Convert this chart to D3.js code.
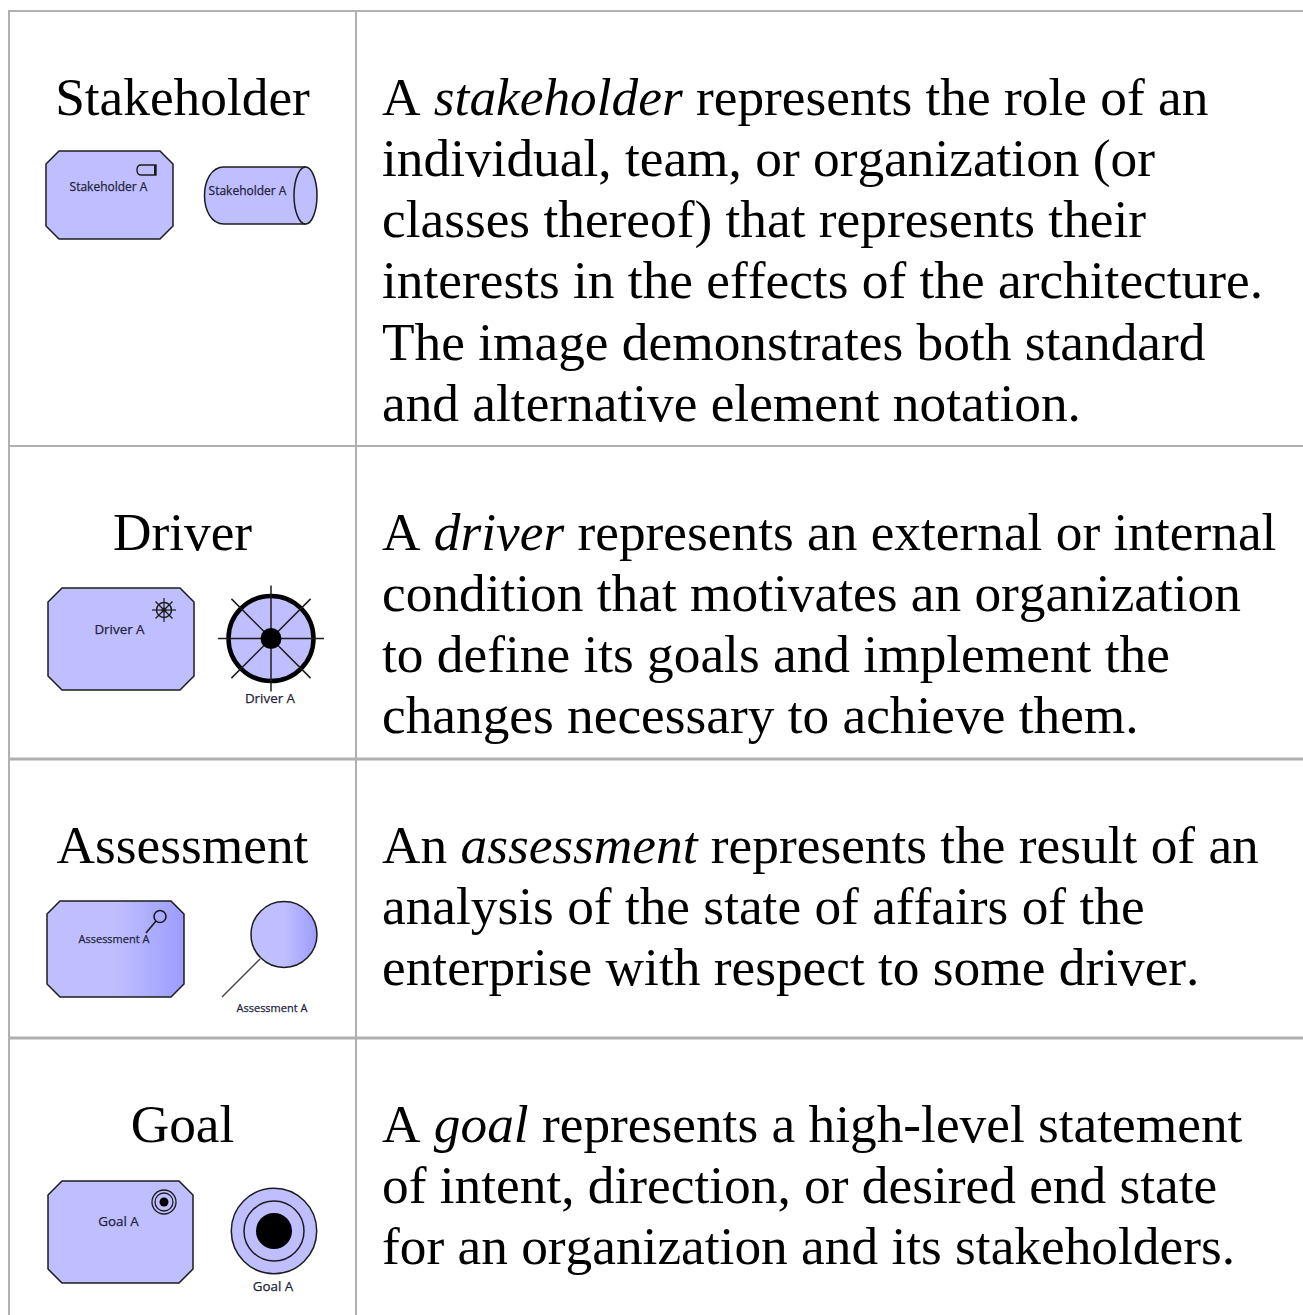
<!DOCTYPE html>
<html>
<head>
<meta charset="utf-8">
<script src="https://cdn.jsdelivr.net/npm/d3@7"></script>
<style>
  html, body { margin: 0; padding: 0; background: #fff; }
  svg { display: block; }
  .big { font-family: "Liberation Serif", serif; font-size: 53.33px; fill: #000; font-kerning: none; }
  .small { font-family: "Open Sans", "Noto Sans", sans-serif; fill: #23233a; stroke: #23233a; stroke-width: 0.25px; }
</style>
</head>
<body>
<svg id="chart"></svg>
<script>
const elements = ["Stakeholder", "Driver", "Assessment", "Goal"];
const elementLabels = ["Stakeholder A", "Driver A", "Assessment A", "Goal A"];
// each line: [before italic, italic, after italic]
const descriptions = [
  [["A ", "stakeholder", " represents the role of an"],
   ["individual, team, or organization (or"],
   ["classes thereof) that represents their"],
   ["interests in the effects of the architecture."],
   ["The image demonstrates both standard"],
   ["and alternative element notation."]],
  [["A ", "driver", " represents an external or internal"],
   ["condition that motivates an organization"],
   ["to define its goals and implement the"],
   ["changes necessary to achieve them."]],
  [["An ", "assessment", " represents the result of an"],
   ["analysis of the state of affairs of the"],
   ["enterprise with respect to some driver."]],
  [["A ", "goal", " represents a high-level statement"],
   ["of intent, direction, or desired end state"],
   ["for an organization and its stakeholders."]]
];
const rowTops = [11, 446, 759, 1038];
const columnEdges = [9, 356, 1303];

const width = 1303, height = 1315;
const fillColor = "#bfbfff", darkFill = "#9c9cff", ink = "#1c1c1c";
const svg = d3.select("#chart").attr("width", width).attr("height", height);

const defs = svg.append("defs");
const grad = defs.append("linearGradient").attr("id", "assessGrad");
grad.append("stop").attr("offset", "50%").attr("stop-color", fillColor);
grad.append("stop").attr("offset", "100%").attr("stop-color", darkFill);

// grid
const grid = svg.append("g").attr("stroke", "#b0b0b0");
rowTops.forEach((y, i) => grid.append("line")
  .attr("x1", columnEdges[0] - 1).attr("x2", columnEdges[2]).attr("y1", y).attr("y2", y)
  .attr("stroke-width", i > 1 ? 3 : 2));
columnEdges.slice(0, 2).forEach(x => grid.append("line")
  .attr("x1", x).attr("x2", x).attr("y1", rowTops[0]).attr("y2", height).attr("stroke-width", 2));

// text
const lineHeight = 61.3, firstBaseline = 103.5;
const rows = svg.selectAll("g.row").data(elements).enter().append("g")
  .attr("class", "row")
  .attr("transform", (d, i) => `translate(0,${rowTops[i]})`);
rows.append("text").attr("class", "big")
  .attr("x", (columnEdges[0] + columnEdges[1]) / 2)
  .attr("y", firstBaseline)
  .attr("text-anchor", "middle")
  .text(d => d);
rows.each(function (d, i) {
  const g = d3.select(this);
  descriptions[i].forEach((parts, j) => {
    const t = g.append("text").attr("class", "big").attr("x", 382).attr("y", firstBaseline + j * lineHeight)
      .style("white-space", "pre");
    parts.forEach((p, k) => t.append("tspan").attr("font-style", k === 1 ? "italic" : "normal").text(p));
  });
});

function octagon(sel, x, y, w, h, c, fill) {
  const pts = [[x + c, y], [x + w - c, y], [x + w, y + c], [x + w, y + h - c], [x + w - c, y + h], [x + c, y + h], [x, y + h - c], [x, y + c]];
  sel.append("polygon").attr("points", pts.join(" ")).attr("fill", fill || fillColor).attr("stroke", ink).attr("stroke-width", 1.5);
}
function label(sel, i, x, y, size) {
  sel.append("text").attr("class", "small").attr("x", x).attr("y", y).attr("text-anchor", "middle")
    .style("font-size", size + "px").text(elementLabels[i]);
}
function spokes(sel, x, y, r, rd, sw) {
  d3.range(8).forEach(k => {
    const a = k * Math.PI / 4, len = k % 2 ? rd : r;
    sel.append("line").attr("x1", x).attr("y1", y)
      .attr("x2", x + len * Math.cos(a)).attr("y2", y + len * Math.sin(a))
      .attr("stroke", ink).attr("stroke-width", sw);
  });
}

// stakeholder
const s = svg.append("g");
octagon(s, 46, 151, 127, 88, 13);
s.append("path").attr("d", "M156,165 H141 Q137,165 137,170 Q137,175 141,175 H156 Z")
  .attr("fill", fillColor).attr("stroke", ink).attr("stroke-width", 1.4);
s.append("line").attr("x1", 155).attr("x2", 155).attr("y1", 165).attr("y2", 175).attr("stroke", ink).attr("stroke-width", 2);
label(s, 0, 108.5, 191, 12);
s.append("path").attr("d", "M306,167 H224 C198,167 198,224 224,224 H306")
  .attr("fill", fillColor).attr("stroke", ink).attr("stroke-width", 1.5);
s.append("ellipse").attr("cx", 305.5).attr("cy", 195.5).attr("rx", 11.5).attr("ry", 28.5)
  .attr("fill", fillColor).attr("stroke", ink).attr("stroke-width", 1.5);
label(s, 0, 247.5, 195, 12);

// driver
const dr = svg.append("g");
octagon(dr, 48, 588, 146, 102, 14);
spokes(dr, 164, 610, 12, 12, 1.2);
dr.append("circle").attr("cx", 164).attr("cy", 610).attr("r", 7.5).attr("fill", "none").attr("stroke", ink).attr("stroke-width", 1.5);
dr.append("circle").attr("cx", 164).attr("cy", 610).attr("r", 2.5).attr("fill", ink);
label(dr, 1, 119.5, 634, 13.4);
dr.append("circle").attr("cx", 271).attr("cy", 638.5).attr("r", 42.5).attr("fill", fillColor).attr("stroke", "#000").attr("stroke-width", 4.5);
spokes(dr, 271, 638.5, 53, 56, 1.5);
dr.append("circle").attr("cx", 271).attr("cy", 638.5).attr("r", 10.5).attr("fill", "#000");
label(dr, 1, 270, 703, 13.4);

// assessment
const as = svg.append("g");
octagon(as, 47, 901, 137, 96, 13, "url(#assessGrad)");
as.append("circle").attr("cx", 160).attr("cy", 916.5).attr("r", 6).attr("fill", "none").attr("stroke", ink).attr("stroke-width", 1.6);
as.append("line").attr("x1", 156).attr("y1", 921).attr("x2", 146).attr("y2", 933).attr("stroke", ink).attr("stroke-width", 1.6);
label(as, 2, 114, 943, 11);
as.append("circle").attr("cx", 284).attr("cy", 934.5).attr("r", 33).attr("fill", "url(#assessGrad)").attr("stroke", ink).attr("stroke-width", 1.5);
as.append("line").attr("x1", 260).attr("y1", 959).attr("x2", 222).attr("y2", 997).attr("stroke", "#444").attr("stroke-width", 1.5);
label(as, 2, 272, 1012, 11);

// goal
const go = svg.append("g");
octagon(go, 48, 1181, 145, 102, 14);
[12, 9, 4.5].forEach((r, k) => go.append("circle").attr("cx", 164).attr("cy", 1202).attr("r", r)
  .attr("fill", k === 2 ? "#000" : "none").attr("stroke", ink).attr("stroke-width", k === 2 ? 0 : 1.3));
label(go, 3, 118.5, 1226, 13.4);
go.append("circle").attr("cx", 274).attr("cy", 1231).attr("r", 42.7).attr("fill", fillColor).attr("stroke", ink).attr("stroke-width", 1.5);
go.append("circle").attr("cx", 274).attr("cy", 1231).attr("r", 30).attr("fill", "none").attr("stroke", ink).attr("stroke-width", 1.5);
go.append("circle").attr("cx", 274).attr("cy", 1231).attr("r", 18).attr("fill", "#000");
label(go, 3, 273, 1291, 13.4);
</script>
</body>
</html>
